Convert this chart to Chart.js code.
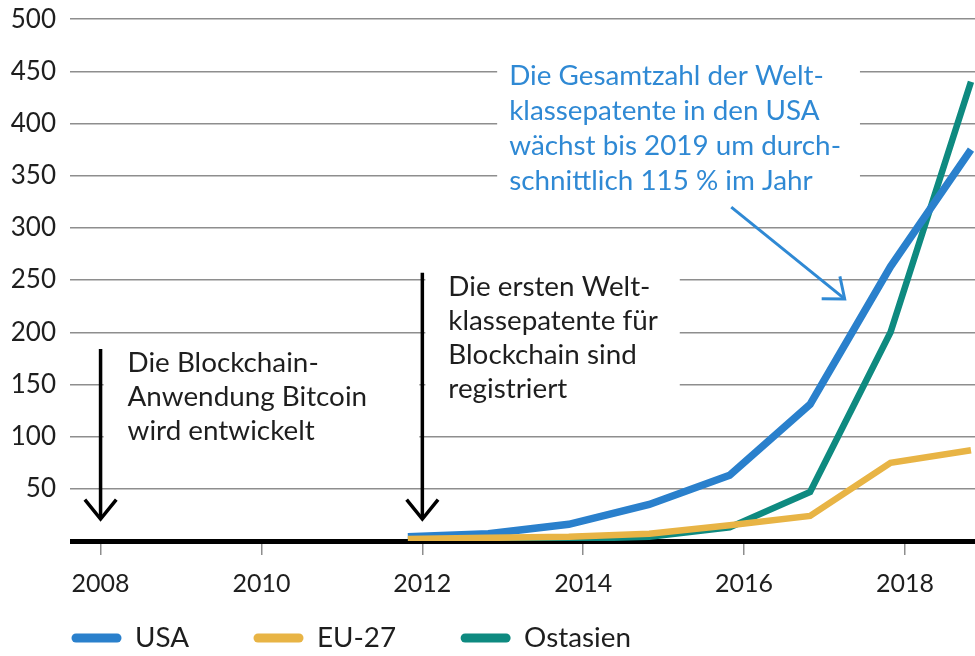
<!DOCTYPE html>
<html lang="de">
<head>
<meta charset="utf-8">
<title>Weltklassepatente Blockchain</title>
<script src="https://cdn.jsdelivr.net/npm/chart.js@4.4.1/dist/chart.umd.min.js"></script>
<style>
  html, body { margin: 0; padding: 0; background: #fff; }
  #wrap { width: 975px; height: 656px; }
</style>
</head>
<body>
<div id="wrap"><canvas id="chart"></canvas></div>
<script>
// --- Daten ---
const YEARS = [2012, 2013, 2014, 2015, 2016, 2017, 2018, 2019];
const USA = [4, 7, 16, 35, 63, 131, 263, 375];
const EU27 = [2, 3, 4, 7, 15, 24, 75, 87];
const OSTASIEN = [1, 1, 2, 4, 13, 47, 200, 440];
const SERIES_LABELS = ['USA', 'EU-27', 'Ostasien'];
const X_TICKS = [2008, 2010, 2012, 2014, 2016, 2018];

const TEXT_BITCOIN = ['Die Blockchain-', 'Anwendung Bitcoin', 'wird entwickelt'];
const TEXT_PATENTE = ['Die ersten Welt-', 'klassepatente für', 'Blockchain sind', 'registriert'];
const TEXT_USA = ['Die Gesamtzahl der Welt-', 'klassepatente in den USA', 'wächst bis 2019 um durch-', 'schnittlich 115 % im Jahr'];

// Jahresmarken sitzen etwas rechts von den Datenpunkten
const TICK_SHIFT = 0.18;

const COLORS = { usa: '#2a80cc', eu: '#e8b445', asia: '#0e8a80', note: '#2f89d4', grid: '#8e8e8e', text: '#1e1e1e' };
const FONT = 'Lato, "Noto Sans", sans-serif';
const TEXT_STRETCH = 1.03; // Original etwas breiter gesetzt

const toPoints = (values) => YEARS.map((y, i) => ({ x: y, y: values[i] }));

function drawArrow(ctx, x1, y1, x2, y2, color, width, head) {
    const ang = Math.atan2(y2 - y1, x2 - x1);
    const spread = 0.68;
    ctx.save();
    ctx.strokeStyle = color;
    ctx.lineWidth = width;
    ctx.lineCap = 'butt';
    ctx.lineJoin = 'miter';
    ctx.beginPath();
    ctx.moveTo(x1, y1);
    ctx.lineTo(x2, y2);
    ctx.stroke();
    ctx.beginPath();
    ctx.moveTo(x2 - head * Math.cos(ang - spread), y2 - head * Math.sin(ang - spread));
    ctx.lineTo(x2, y2);
    ctx.lineTo(x2 - head * Math.cos(ang + spread), y2 - head * Math.sin(ang + spread));
    ctx.stroke();
    ctx.restore();
}

function drawText(ctx, text, x, y, color) {
    ctx.save();
    ctx.font = '27px ' + FONT;
    ctx.fillStyle = color;
    ctx.textBaseline = 'middle';
    ctx.textAlign = 'left';
    ctx.translate(x, y);
    ctx.scale(TEXT_STRETCH, 1);
    ctx.fillText(text, 0, 0);
    const w = ctx.measureText(text).width * TEXT_STRETCH;
    ctx.restore();
    return w;
}

function drawLines(ctx, lines, x, y, step, color) {
    lines.forEach((t, i) => drawText(ctx, t, x, y + i * step, color));
}

// Anmerkungen: weiße Flächen unter Linien, Text und Pfeile darüber
const notesPlugin = {
    id: 'notes',
    beforeDatasetsDraw(chart) {
        const { ctx, scales: { x, y } } = chart;
        const a08 = x.getPixelForValue(2008 + TICK_SHIFT);
        const a12 = x.getPixelForValue(2012 + TICK_SHIFT);
        ctx.save();
        ctx.fillStyle = '#fff';
        ctx.fillRect(a08 + 3, y.getPixelForValue(187), a12 - a08 - 6, y.getPixelForValue(90) - y.getPixelForValue(187));
        ctx.fillRect(a12 + 3, y.getPixelForValue(264), x.getPixelForValue(2015.38) - a12 - 3, y.getPixelForValue(133) - y.getPixelForValue(264));
        ctx.fillRect(x.getPixelForValue(2013.11), y.getPixelForValue(465), x.getPixelForValue(2017.62) - x.getPixelForValue(2013.11), y.getPixelForValue(326) - y.getPixelForValue(465));
        ctx.restore();
    },
    afterDatasetsDraw(chart) {
        const { ctx, scales: { x, y } } = chart;
        const a08 = x.getPixelForValue(2008 + TICK_SHIFT);
        const a12 = x.getPixelForValue(2012 + TICK_SHIFT);
        drawArrow(ctx, a08, y.getPixelForValue(184), a08, y.getPixelForValue(21), '#000', 3.5, 25);
        drawArrow(ctx, a12, y.getPixelForValue(257), a12, y.getPixelForValue(21), '#000', 3.5, 25);
        drawArrow(ctx, x.getPixelForValue(2016.02), y.getPixelForValue(320), x.getPixelForValue(2017.43), y.getPixelForValue(232), COLORS.note, 3, 23);

        drawLines(ctx, TEXT_BITCOIN, a08 + 27, y.getPixelForValue(170), 34, COLORS.text);
        drawLines(ctx, TEXT_PATENTE, a12 + 26, y.getPixelForValue(243), 34, COLORS.text);
        drawLines(ctx, TEXT_USA, x.getPixelForValue(2013.26), y.getPixelForValue(445), 35, COLORS.note);
    },
    afterDraw(chart) {
        // Legende unten links
        const { ctx, chartArea } = chart;
        let lx = chartArea.left + 2;
        const ly = 638;
        chart.data.datasets.forEach((ds) => {
            ctx.save();
            ctx.strokeStyle = ds.borderColor;
            ctx.lineWidth = 9;
            ctx.lineCap = 'round';
            ctx.beginPath();
            ctx.moveTo(lx + 4, ly);
            ctx.lineTo(lx + 45, ly);
            ctx.stroke();
            ctx.restore();
            const w = drawText(ctx, ds.label, lx + 63, ly, COLORS.text);
            lx += 63 + w + 65;
        });
    }
};

new Chart(document.getElementById('chart'), {
    type: 'line',
    data: {
        datasets: [
            { label: SERIES_LABELS[0], data: toPoints(USA), borderColor: COLORS.usa, backgroundColor: COLORS.usa, borderWidth: 7.5, order: 1 },
            { label: SERIES_LABELS[1], data: toPoints(EU27), borderColor: COLORS.eu, backgroundColor: COLORS.eu, borderWidth: 6.5, order: 0 },
            { label: SERIES_LABELS[2], data: toPoints(OSTASIEN), borderColor: COLORS.asia, backgroundColor: COLORS.asia, borderWidth: 6.5, order: 2 }
        ]
    },
    options: {
        responsive: true,
        maintainAspectRatio: false,
        animation: false,
        elements: { point: { radius: 0 }, line: { tension: 0, borderJoinStyle: 'miter', borderCapStyle: 'butt' } },
        layout: { padding: { left: 0, right: 0, top: 14, bottom: 43 } },
        plugins: { legend: { display: false }, tooltip: { enabled: false } },
        scales: {
            x: {
                type: 'linear',
                min: 2007.8,
                max: 2019.05,
                afterBuildTicks: (s) => { s.ticks = X_TICKS.map(v => ({ value: v + TICK_SHIFT })); },
                ticks: {
                    autoSkip: false,
                    maxRotation: 0,
                    padding: 14,
                    color: COLORS.text,
                    font: { family: FONT, size: 25 },
                    callback: (v) => String(Math.round(v - TICK_SHIFT))
                },
                grid: { drawOnChartArea: false, drawTicks: true, tickLength: 14, color: COLORS.grid, lineWidth: 1.5 },
                border: { display: false }
            },
            y: {
                min: 0,
                max: 500,
                afterFit: (s) => { s.width = 70; },
                ticks: {
                    stepSize: 50,
                    padding: 14,
                    color: COLORS.text,
                    font: { family: FONT, size: 26, lineHeight: 0.4 },
                    callback: (v) => (v === 0 ? '' : v)
                },
                grid: {
                    drawTicks: false,
                    color: (c) => (c.tick && c.tick.value === 0 ? '#000' : COLORS.grid),
                    lineWidth: (c) => (c.tick && c.tick.value === 0 ? 5 : 1.5)
                },
                border: { display: false }
            }
        }
    },
    plugins: [notesPlugin]
});
</script>
</body>
</html>
